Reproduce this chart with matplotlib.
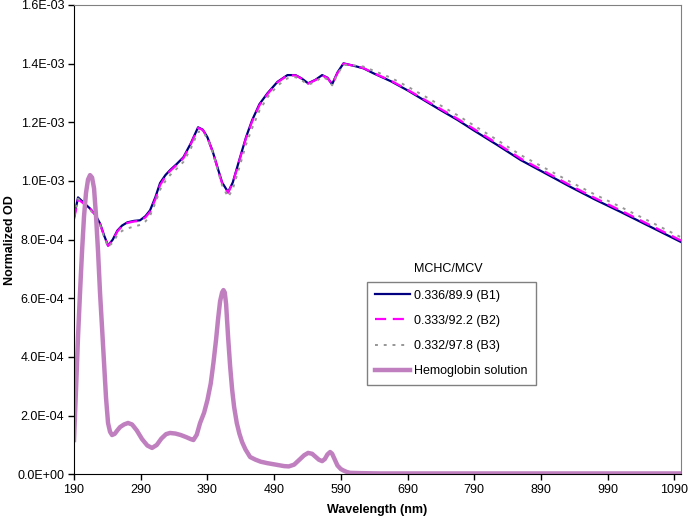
import matplotlib
matplotlib.use("Agg")
import matplotlib.pyplot as plt
from matplotlib.ticker import FuncFormatter

plt.rcParams["font.family"] = ["Liberation Sans", "DejaVu Sans"]
plt.rcParams["font.size"] = 9

# wavelength (nm) for the three blood samples
wl = [190, 196, 205, 214, 222, 229, 235, 241, 248, 255, 262, 270, 280, 289,
      297, 304, 312, 319, 327, 334, 344, 354, 365, 376, 383, 390, 398, 405,
      412, 421, 428, 439, 448, 457, 468, 480, 495, 510, 522, 531, 541, 552,
      562, 570, 577, 585, 594, 609, 624, 639, 665, 690, 715, 740, 765, 789,
      825, 860, 900, 935, 970, 1010, 1055, 1100]

b1 = [0.877, 0.944, 0.925, 0.906, 0.885, 0.855, 0.815, 0.780, 0.800, 0.831,
      0.848, 0.859, 0.864, 0.866, 0.880, 0.900, 0.945, 0.993, 1.020, 1.037,
      1.058, 1.081, 1.128, 1.183, 1.175, 1.149, 1.100, 1.047, 0.995, 0.962,
      0.995, 1.081, 1.150, 1.207, 1.262, 1.299, 1.338, 1.361, 1.361, 1.350,
      1.333, 1.345, 1.361, 1.352, 1.330, 1.370, 1.401, 1.393, 1.384, 1.367,
      1.340, 1.309, 1.275, 1.241, 1.208, 1.173, 1.122, 1.071, 1.022, 0.979,
      0.938, 0.894, 0.843, 0.792]

b2 = [0.870, 0.938, 0.922, 0.905, 0.884, 0.853, 0.813, 0.779, 0.798, 0.828,
      0.846, 0.857, 0.862, 0.864, 0.876, 0.895, 0.938, 0.986, 1.015, 1.034,
      1.055, 1.078, 1.125, 1.181, 1.174, 1.148, 1.098, 1.045, 0.992, 0.960,
      0.993, 1.078, 1.147, 1.203, 1.258, 1.296, 1.336, 1.360, 1.360, 1.349,
      1.332, 1.344, 1.360, 1.351, 1.329, 1.368, 1.400, 1.393, 1.385, 1.368,
      1.342, 1.311, 1.278, 1.245, 1.212, 1.178, 1.127, 1.076, 1.027, 0.984,
      0.943, 0.899, 0.848, 0.797]

b3 = [0.880, 0.940, 0.922, 0.902, 0.880, 0.850, 0.810, 0.775, 0.790, 0.815,
      0.830, 0.838, 0.845, 0.850, 0.862, 0.882, 0.925, 0.970, 1.000, 1.020,
      1.042, 1.065, 1.110, 1.168, 1.168, 1.145, 1.098, 1.040, 0.985, 0.945,
      0.972, 1.055, 1.125, 1.180, 1.240, 1.285, 1.325, 1.350, 1.354, 1.344,
      1.328, 1.338, 1.355, 1.346, 1.326, 1.364, 1.396, 1.394, 1.390, 1.376,
      1.352, 1.322, 1.290, 1.257, 1.224, 1.190, 1.139, 1.088, 1.039, 0.996,
      0.955, 0.911, 0.860, 0.808]

# hemoglobin solution spectrum
wl_hb = [190, 193, 196, 199, 202, 205, 208, 211, 214, 217, 220, 223, 226,
         229, 232, 235, 238, 241, 244, 247, 251, 255, 259, 265, 271, 277,
         284, 292, 300, 307, 314, 321, 328, 334, 342, 350, 358, 365, 369,
         374, 379, 385, 390, 395, 399, 403, 406, 409, 412, 414, 416, 418,
         421, 424, 427, 430, 434, 438, 442, 447, 454, 462, 470, 480, 495,
         505, 512, 520, 528, 535, 541, 547, 552, 557, 562, 566, 570, 574,
         577, 581, 585, 590, 594, 599, 604, 620, 650, 700, 750, 800, 850,
         900, 950, 1000, 1050, 1100]
hb = [0.117, 0.290, 0.470, 0.620, 0.760, 0.880, 0.960, 1.005, 1.020, 1.012,
      0.975, 0.880, 0.760, 0.618, 0.500, 0.380, 0.260, 0.175, 0.145, 0.134,
      0.138, 0.150, 0.161, 0.170, 0.175, 0.170, 0.150, 0.120, 0.098, 0.090,
      0.100, 0.122, 0.137, 0.141, 0.139, 0.134, 0.127, 0.120, 0.117, 0.135,
      0.175, 0.210, 0.253, 0.310, 0.380, 0.460, 0.530, 0.590, 0.620, 0.628,
      0.620, 0.580, 0.468, 0.370, 0.290, 0.230, 0.175, 0.138, 0.110, 0.085,
      0.059, 0.050, 0.043, 0.038, 0.032, 0.028, 0.027, 0.033, 0.050, 0.065,
      0.073, 0.070, 0.060, 0.050, 0.045, 0.052, 0.068, 0.076, 0.070, 0.050,
      0.030, 0.018, 0.013, 0.008, 0.005, 0.004, 0.003, 0.003, 0.003, 0.003,
      0.003, 0.003, 0.003, 0.003, 0.003, 0.003]

labels = ["0.336/89.9 (B1)", "0.333/92.2 (B2)", "0.332/97.8 (B3)",
          "Hemoglobin solution"]

fig = plt.figure(figsize=(6.88, 5.24), dpi=100)
ax = fig.add_axes([0.1076, 0.0948, 0.8822, 0.8957])

s = 1e-3
ax.plot(wl, [v * s for v in b1], color="#000080", lw=1.6, label=labels[0])
ax.plot(wl, [v * s for v in b2], color="#FF00FF", lw=1.6,
        dashes=(5, 3), label=labels[1])
ax.plot(wl, [v * s for v in b3], color="#969696", lw=1.4,
        dashes=(1.5, 3), label=labels[2])
ax.plot(wl_hb, [v * s for v in hb], color="#C080C0", lw=3.2,
        solid_joinstyle="round", label=labels[3])

ax.set_xlim(190, 1100)
ax.set_ylim(0, 1.6e-3)
ax.set_xticks(range(190, 1091, 100))
ax.set_yticks([i * 2e-4 for i in range(9)])
ax.yaxis.set_major_formatter(FuncFormatter(lambda v, p: f"{v:.1E}"))
ax.tick_params(direction="out", length=4, width=1, pad=3, labelsize=9)

ax.spines["top"].set_color("#808080")
ax.spines["right"].set_color("#808080")
ax.spines["left"].set_color("black")
ax.spines["bottom"].set_color("black")

ax.set_xlabel("Wavelength (nm)", fontweight="bold", fontsize=9, labelpad=6)
ax.set_ylabel("Normalized OD", fontweight="bold", fontsize=9)
ax.yaxis.set_label_coords(-0.095, 0.5)

leg = ax.legend(loc="lower left", bbox_to_anchor=(0.4827, 0.19),
                borderaxespad=0, fancybox=False, edgecolor="#808080",
                framealpha=1, handlelength=2.8, handletextpad=0.3,
                labelspacing=1.05, borderpad=0.65, fontsize=9)
leg.get_frame().set_linewidth(1)
ax.text(0.616, 0.437, "MCHC/MCV", transform=ax.transAxes, ha="center",
        va="center", fontsize=9)

fig.savefig("out.png", dpi=100)
